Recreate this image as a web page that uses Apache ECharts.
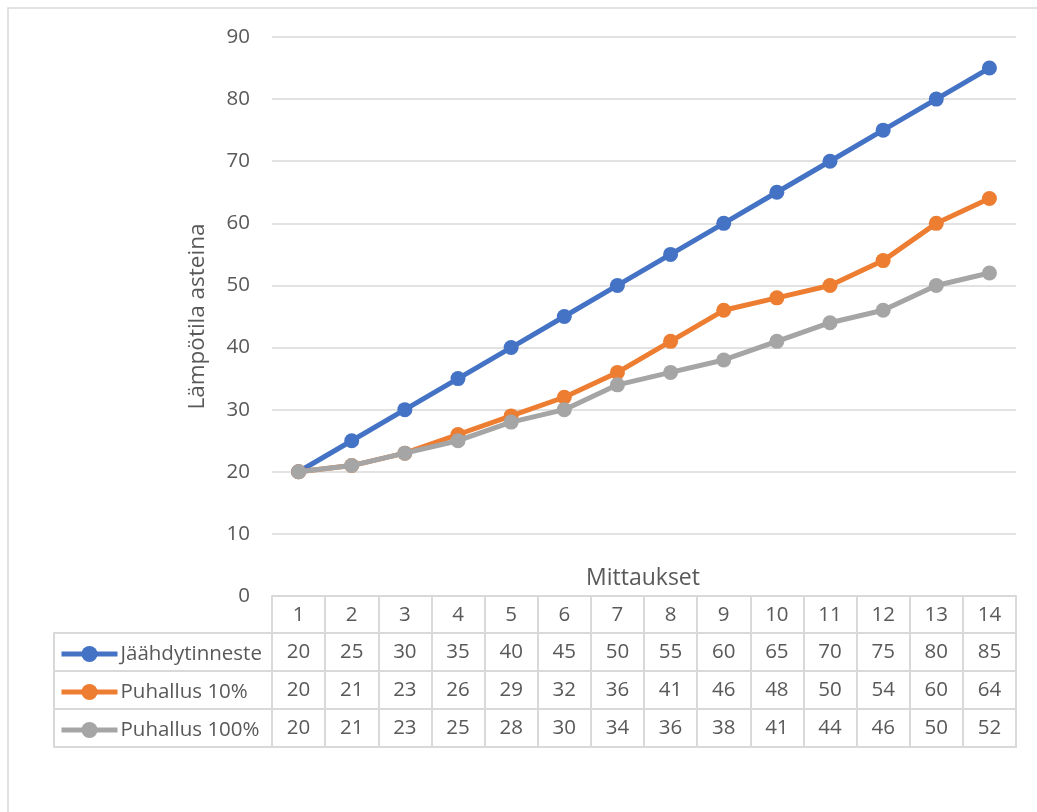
<!DOCTYPE html>
<html>
<head>
<meta charset="utf-8">
<script src="https://cdn.jsdelivr.net/npm/echarts@6/dist/echarts.min.js"></script>
<style>
  html, body { margin: 0; padding: 0; background: #fff; }
  #chart { width: 1037px; height: 812px; }
</style>
</head>
<body>
<div id="chart"></div>
<script>
const categories = ["1", "2", "3", "4", "5", "6", "7", "8", "9", "10", "11", "12", "13", "14"]
const jaahdytinneste = [20, 25, 30, 35, 40, 45, 50, 55, 60, 65, 70, 75, 80, 85]
const puhallus10 = [20, 21, 23, 26, 29, 32, 36, 41, 46, 48, 50, 54, 60, 64]
const puhallus100 = [20, 21, 23, 25, 28, 30, 34, 36, 38, 41, 44, 46, 50, 52]
const seriesNames = ["Jäähdytinneste", "Puhallus 10%", "Puhallus 100%"]
const colors = ["#4472C4", "#ED7D31", "#A5A5A5"]

const font = "'Open Sans', 'Noto Sans', sans-serif"
const textColor = "#595959"
const borderColor = "#d9d9d9"
const rowH = 38
const fs = 20.5

const chart = echarts.init(document.getElementById("chart"))

const rows = [jaahdytinneste, puhallus10, puhallus100]

// table rows are extra category axes stacked under the plot
const tableAxes = rows.map((vals, i) => ({
  type: "category",
  gridIndex: 0,
  position: "bottom",
  offset: 37 + i * rowH,
  data: vals.map(String),
  boundaryGap: true,
  axisLine: { show: true, onZero: false, lineStyle: { color: borderColor, width: 2 } },
  axisTick: { show: true, interval: 0, length: rowH, lineStyle: { color: borderColor, width: 2 } },
  axisLabel: { interval: 0, fontSize: fs, color: textColor, fontFamily: font, margin: 9 },
}))

// left column of the table (legend cells)
const legendAxes = [0, 1, 2, 3].map((i) => ({
  type: "category",
  gridIndex: 1,
  position: "bottom",
  offset: 37 + i * rowH,
  data: [""],
  boundaryGap: true,
  axisLine: { show: true, onZero: false, lineStyle: { color: borderColor, width: 2 } },
  axisTick: { show: i < 3, interval: 0, length: rowH, lineStyle: { color: borderColor, width: 2 } },
  axisLabel: { show: false },
}))

const option = {
  backgroundColor: "#fff",
  animation: false,
  graphic: [
    {
      type: "rect",
      shape: { x: 8, y: 8, width: 1100, height: 900 },
      style: { fill: "none", stroke: borderColor, lineWidth: 1.5 },
      silent: true,
    },
    {
      type: "text",
      x: 643,
      y: 578,
      style: {
        text: "Mittaukset",
        fill: textColor,
        font: "23px " + font,
        align: "center",
        verticalAlign: "middle",
      },
      silent: true,
    },
  ],
  legend: {
    orient: "vertical",
    left: 54,
    top: 638,
    itemGap: 16,
    itemWidth: 56,
    itemHeight: 20,
    lineStyle: { width: 5 },
    textStyle: { fontSize: fs, lineHeight: 22, color: textColor, fontFamily: font, padding: [0, 0, 0, -2] },
    data: seriesNames,
  },
  grid: [
    { left: 272, right: 21, top: 37, bottom: 216, containLabel: false },
    { left: 54, right: 1037 - 272, top: 37, bottom: 216, containLabel: false },
  ],
  xAxis: [
    {
      type: "category",
      gridIndex: 0,
      data: categories,
      boundaryGap: true,
      axisLine: { show: true, onZero: false, lineStyle: { color: borderColor, width: 2 } },
      axisTick: { show: true, interval: 0, length: 37, lineStyle: { color: borderColor, width: 2 } },
      axisLabel: { interval: 0, fontSize: fs, color: textColor, fontFamily: font, margin: 9 },
    },
    ...tableAxes,
    {
      type: "category",
      gridIndex: 0,
      position: "bottom",
      offset: 37 + 3 * rowH,
      data: categories,
      axisLine: { show: true, onZero: false, lineStyle: { color: borderColor, width: 2 } },
      axisTick: { show: false },
      axisLabel: { show: false },
    },
    ...legendAxes,
  ],
  yAxis: [
    {
      type: "value",
      gridIndex: 0,
      min: 0,
      max: 90,
      interval: 10,
      name: "Lämpötila asteina",
      nameLocation: "middle",
      nameGap: 63,
      nameRotate: 90,
      nameTextStyle: { fontSize: 22.5, color: textColor, fontFamily: font },
      axisLine: { show: false },
      axisTick: { show: false },
      axisLabel: { fontSize: fs, color: textColor, fontFamily: font, margin: 22 },
      splitLine: { lineStyle: { color: borderColor, width: 1.5 } },
    },
    { type: "value", gridIndex: 1, min: 0, max: 1, show: false },
  ],
  series: rows.map((vals, i) => ({
    name: seriesNames[i],
    type: "line",
    xAxisIndex: 0,
    yAxisIndex: 0,
    data: vals,
    symbol: "circle",
    symbolSize: 15,
    lineStyle: { color: colors[i], width: 5 },
    itemStyle: { color: colors[i] },
    z: 3 + i,
  })),
}

chart.setOption(option)
</script>
</body>
</html>
